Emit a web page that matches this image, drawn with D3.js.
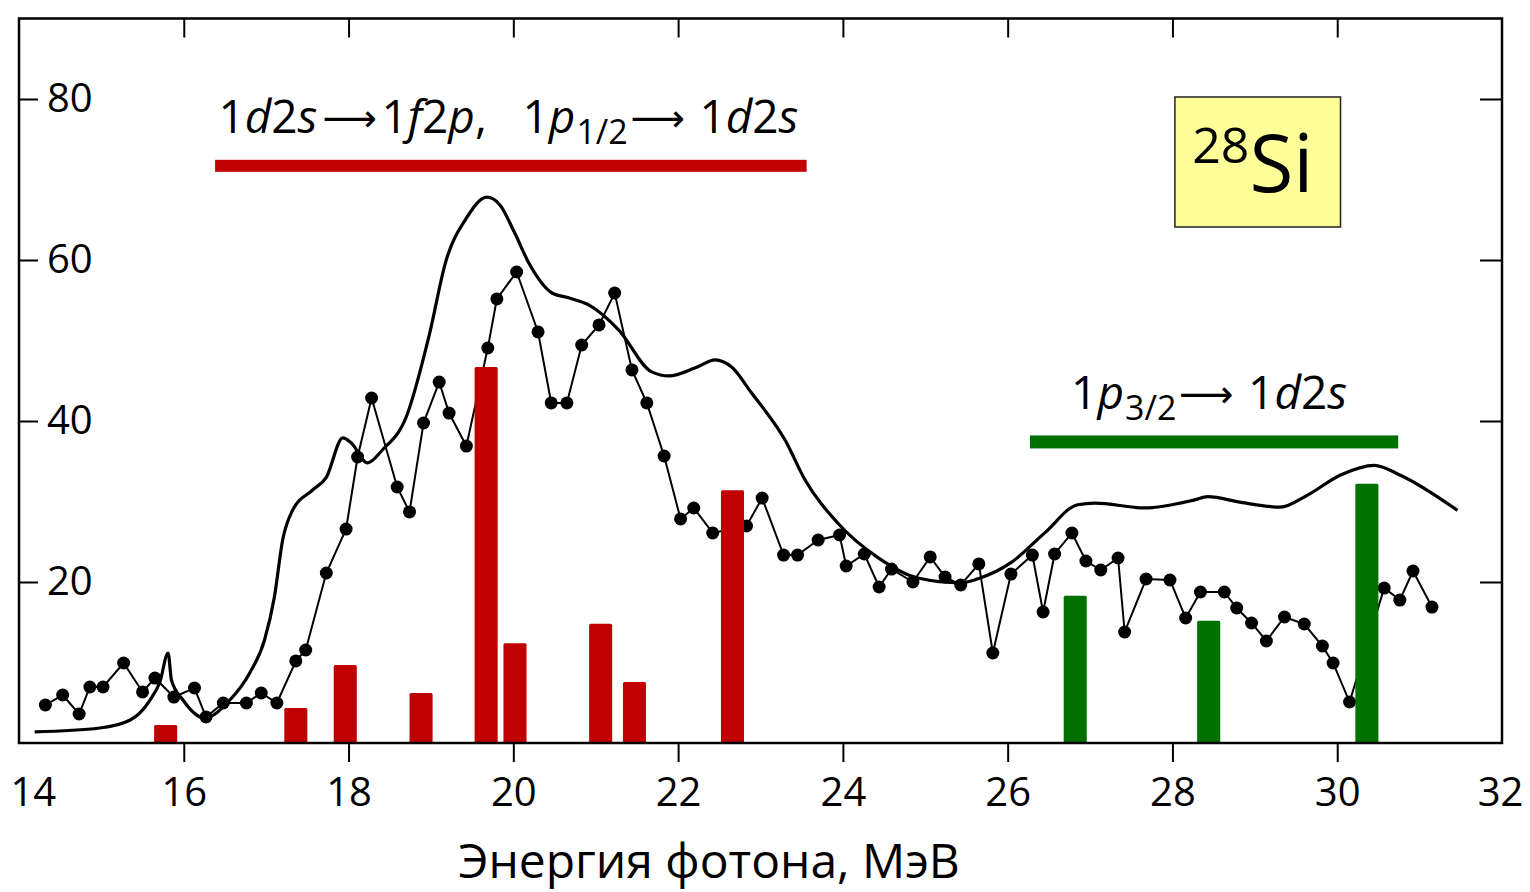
<!DOCTYPE html>
<html><head><meta charset="utf-8">
<script src="https://cdn.jsdelivr.net/npm/d3@7"></script>
<style>
body{margin:0;background:#fff}
svg{display:block}
text{font-family:"Open Sans","Noto Sans","DejaVu Sans",sans-serif;fill:#000}
</style>
</head><body>
<svg id="chart" width="1530" height="892"></svg>
<script>
// ---- data ----
const xTicks = [14,16,18,20,22,24,26,28,30,32];
const xInnerTicks = [16,18,20,22,24,26,28,30];
const yTicks = [20,40,60,80];

// smooth (theoretical) curve
const curveE = [14.19,14.98,15.35,15.59,15.71,15.81,15.85,15.99,16.25,16.56,16.80,16.98,17.10,17.20,17.32,17.56,17.73,17.93,18.03,18.23,18.41,18.70,18.98,19.18,19.43,19.68,19.84,20.01,20.20,20.47,20.67,20.92,21.28,21.68,21.89,22.21,22.45,22.65,22.89,23.30,23.54,23.94,24.43,24.91,25.43,25.64,26.04,26.45,26.85,27.06,27.66,28.27,28.43,28.83,29.31,29.64,30.04,30.45,30.76,31.46];
const curveV = [1.37,1.86,2.86,5.34,7.58,11.18,7.83,5.34,3.11,5.34,8.70,12.80,18.14,25.22,28.9,31.4,33.0,37.9,37.3,34.8,36.4,40.5,50.7,59.8,65.2,67.8,66.8,63.5,59.4,55.9,55.3,54.4,51.3,46.1,45.6,46.6,47.6,46.7,43.5,37.6,32.7,27.3,23.0,20.5,19.9,20.4,22.4,26.1,29.6,29.8,29.2,30.2,30.6,29.9,29.3,30.8,33.3,34.5,33.3,28.9];

// experimental points
const dataE = [14.32,14.53,14.73,14.86,15.02,15.27,15.50,15.65,15.88,16.13,16.27,16.48,16.76,16.94,17.13,17.36,17.48,17.73,17.97,18.11,18.28,18.59,18.74,18.91,19.10,19.22,19.43,19.69,19.80,20.04,20.30,20.46,20.65,20.83,21.04,21.23,21.44,21.62,21.83,22.03,22.19,22.42,22.83,23.02,23.28,23.45,23.70,23.96,24.04,24.26,24.44,24.59,24.85,25.06,25.24,25.43,25.65,25.82,26.04,26.30,26.43,26.57,26.78,26.95,27.13,27.34,27.42,27.68,27.97,28.16,28.34,28.63,28.78,28.96,29.14,29.36,29.60,29.82,29.95,30.15,30.57,30.76,30.92,31.15];
const dataV = [4.72,5.96,3.60,6.96,6.96,9.94,6.34,8.07,5.71,6.83,3.23,4.97,4.97,6.21,4.97,10.19,11.55,21.12,26.58,35.53,42.86,31.80,28.70,39.75,44.84,40.99,36.89,49.07,55.16,58.51,51.06,42.24,42.24,49.44,51.93,55.90,46.34,42.24,35.65,27.83,29.19,26.09,26.96,30.43,23.35,23.35,25.22,25.84,21.99,23.48,19.38,21.61,20.00,23.11,20.62,19.63,22.24,11.18,20.99,23.35,16.27,23.48,26.09,22.61,21.49,22.98,13.79,20.37,20.25,15.53,18.76,18.76,16.77,14.91,12.67,15.65,14.78,12.05,9.94,5.09,19.25,17.76,21.37,16.89];

// transition strengths
const redE = [15.78,17.36,17.96,18.88,19.67,20.02,21.06,21.47,22.66];
const redV = [2.24,4.35,9.69,6.21,46.7,12.4,14.8,7.58,31.4];
const greenE = [26.82,28.44,30.36];
const greenV = [18.3,15.2,32.2];

// annotation bands [from, to, level]
const redBand = [16.38, 23.56, 71.7];
const greenBand = [26.27, 30.74, 37.4];

const xTitle = "Энергия фотона, МэВ";

// ---- drawing ----
const svg = d3.select("#chart");
svg.append("rect").attr("width",1530).attr("height",892).attr("fill","#fff");

const x = d3.scaleLinear().domain([14,32]).range([19,1502]);
const y = d3.scaleLinear().domain([0,90]).range([743,18.5]);
const barW = x(14.28) - x(14);

// smooth curve
svg.append("path")
  .datum(curveE.map((e,i)=>[e,curveV[i]]))
  .attr("fill","none").attr("stroke","#000").attr("stroke-width",3.2)
  .attr("d", d3.line().x(d=>x(d[0])).y(d=>y(d[1])).curve(d3.curveMonotoneX));

// experimental line + points
const pts = dataE.map((e,i)=>[e,dataV[i]]);
svg.append("path").datum(pts)
  .attr("fill","none").attr("stroke","#000").attr("stroke-width",2)
  .attr("d", d3.line().x(d=>x(d[0])).y(d=>y(d[1])));
svg.append("g").selectAll("circle").data(pts).join("circle")
  .attr("cx",d=>x(d[0])).attr("cy",d=>y(d[1])).attr("r",6.5).attr("fill","#000");

// bars
svg.append("g").selectAll("rect").data(redE.map((e,i)=>[e,redV[i]])).join("rect")
  .attr("x",d=>x(d[0])-barW/2).attr("width",barW)
  .attr("y",d=>y(d[1])).attr("height",d=>y(0)-y(d[1]))
  .attr("rx",1.5).attr("fill","#C00000");
svg.append("g").selectAll("rect").data(greenE.map((e,i)=>[e,greenV[i]])).join("rect")
  .attr("x",d=>x(d[0])-barW/2).attr("width",barW)
  .attr("y",d=>y(d[1])).attr("height",d=>y(0)-y(d[1]))
  .attr("rx",1.5).attr("fill","#007000");

// annotation bands
svg.append("rect").attr("x",x(redBand[0])).attr("width",x(redBand[1])-x(redBand[0]))
  .attr("y",y(redBand[2])-6).attr("height",12).attr("fill","#C00000");
svg.append("rect").attr("x",x(greenBand[0])).attr("width",x(greenBand[1])-x(greenBand[0]))
  .attr("y",y(greenBand[2])-6.5).attr("height",13).attr("fill","#007000");

// annotation labels: each chunk is a list of parts starting at an offset
function label(x0, yp, chunks){
  const g = svg.append("g");
  chunks.forEach(c=>{
    const t = g.append("text").attr("x",x0+c.off).attr("y",yp + (c.sub?11:0))
      .attr("font-size", c.sub?34:46).attr("xml:space","preserve");
    if(c.arrow) t.attr("font-family","DejaVu Sans").attr("font-size",38).attr("y",yp-2);
    c.parts.forEach(p=>{
      const s = t.append("tspan").text(p.t);
      if(p.i) s.attr("font-style","italic");
    });
  });
}
const it = s => ({t:s,i:1});
const rm = s => ({t:s});
label(x(16.42), y(75.8), [
  {off:0,   parts:[rm("1"),it("d"),rm("2"),it("s")]},
  {off:104, arrow:1, parts:[rm("\u27F6")]},
  {off:163, parts:[rm("1"),it("f"),rm("2"),it("p"),rm(",")]},
  {off:304, parts:[rm("1"),it("p")]},
  {off:358, sub:1, parts:[rm("1/2")]},
  {off:412, arrow:1, parts:[rm("\u27F6")]},
  {off:481, parts:[rm("1"),it("d"),rm("2"),it("s")]}
]);
label(x(26.77), y(41.5), [
  {off:0,   parts:[rm("1"),it("p")]},
  {off:54,  sub:1, parts:[rm("3/2")]},
  {off:108, arrow:1, parts:[rm("\u27F6")]},
  {off:177, parts:[rm("1"),it("d"),rm("2"),it("s")]}
]);

// 28Si box
svg.append("rect").attr("x",x(28.03)).attr("y",y(80.25))
  .attr("width",x(30.04)-x(28.03)).attr("height",y(64.1)-y(80.25))
  .attr("fill","#FFFF99").attr("stroke","#222").attr("stroke-width",1.5);
const si = svg.append("text").attr("x",x(28.24)).attr("y",y(68.4));
si.append("tspan").text("28").attr("font-size",50).attr("dy",-29);
si.append("tspan").text("Si").attr("font-size",80).attr("dy",29);

// axes
const fs = 40;
const gB = svg.append("g").attr("transform",`translate(0,${y(0)})`)
  .call(d3.axisBottom(x).tickValues(xTicks).tickSize(19).tickPadding(16).tickSizeOuter(0).tickFormat(d3.format("d")));
gB.select(".domain").remove();
gB.selectAll(".tick line").attr("stroke","#000").attr("stroke-width",2)
  .attr("opacity",d=>(d===14||d===32)?0:1);
gB.selectAll(".tick text").attr("font-size",fs).attr("font-family",null).attr("fill","#000");
gB.selectAll(".tick").filter(d=>d===14).select("text").attr("text-anchor","start").attr("dx",-9);
gB.selectAll(".tick").filter(d=>d===32).select("text").attr("dx",-2);

const gT = svg.append("g").attr("transform",`translate(0,${y(90)})`)
  .call(d3.axisBottom(x).tickValues(xInnerTicks).tickSize(19).tickFormat(""));
gT.select(".domain").remove();
gT.selectAll(".tick line").attr("stroke","#000").attr("stroke-width",2);

const gL = svg.append("g").attr("transform",`translate(${x(14)},0)`)
  .call(d3.axisRight(y).tickValues(yTicks).tickSize(19).tickPadding(9).tickFormat(d3.format("d")));
gL.select(".domain").remove();
gL.selectAll(".tick line").attr("stroke","#000").attr("stroke-width",2);
gL.selectAll(".tick text").attr("font-size",fs).attr("font-family",null).attr("fill","#000");

const gR = svg.append("g").attr("transform",`translate(${x(32)},0)`)
  .call(d3.axisLeft(y).tickValues(yTicks).tickSize(22).tickFormat(""));
gR.select(".domain").remove();
gR.selectAll(".tick line").attr("stroke","#000").attr("stroke-width",2);

// frame
svg.append("rect").attr("x",x(14)).attr("y",y(90))
  .attr("width",x(32)-x(14)).attr("height",y(0)-y(90))
  .attr("fill","none").attr("stroke","#000").attr("stroke-width",2.5);

// x title
svg.append("text").attr("x",709).attr("y",878).attr("text-anchor","middle")
  .attr("font-size",48).text(xTitle);
</script>
</body></html>
